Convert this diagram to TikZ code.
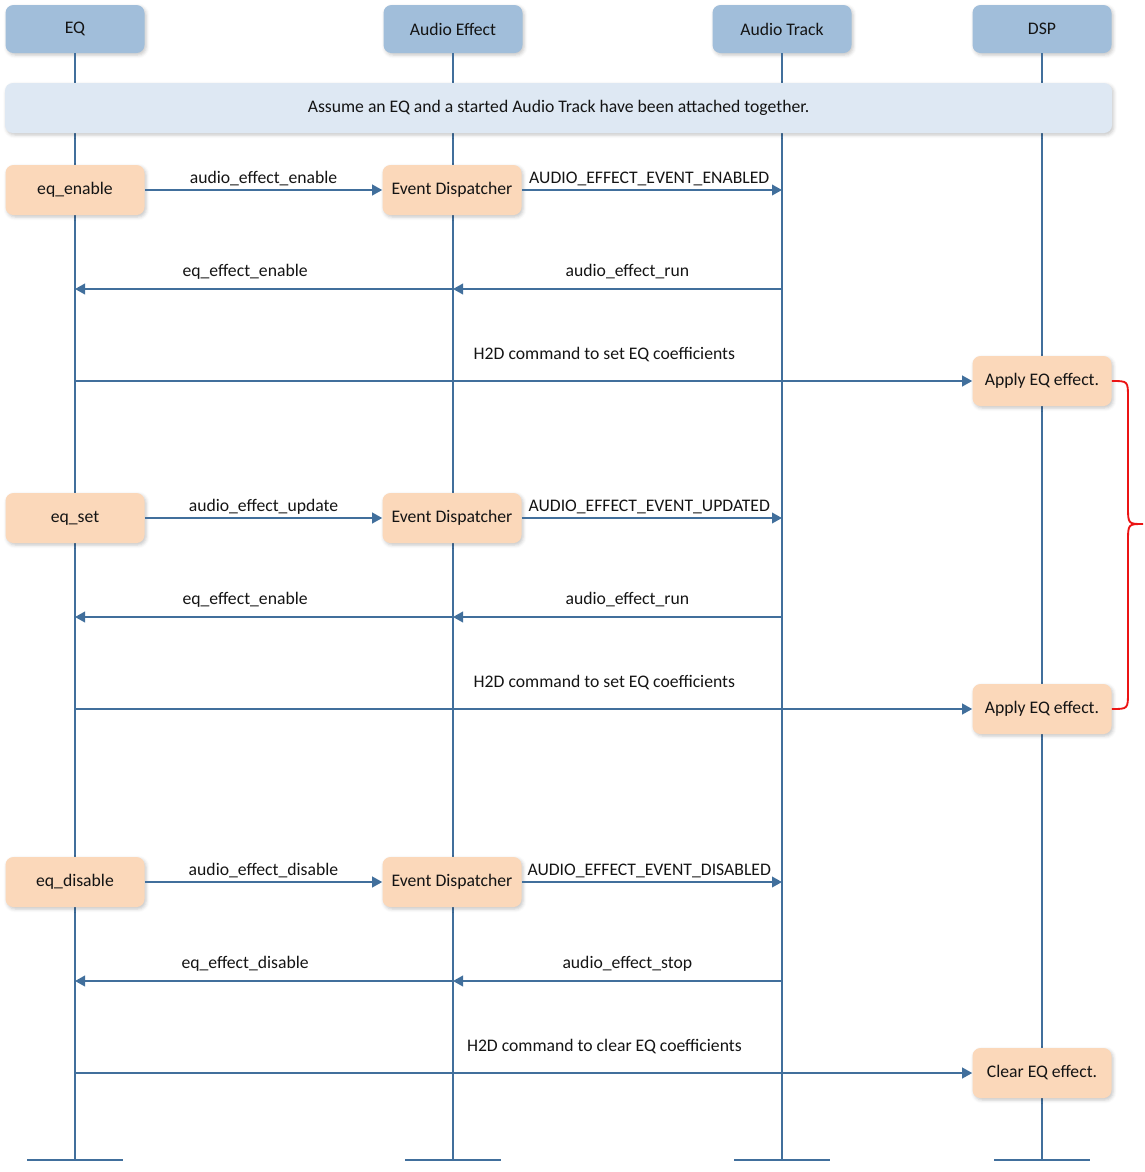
\documentclass[tikz,border=0pt]{standalone}
\usepackage{fontspec}
\setmainfont{Carlito}
\usetikzlibrary{arrows.meta}
\usetikzlibrary{shadows.blur}

\definecolor{lineblue}{RGB}{65,111,156}
\definecolor{headfill}{RGB}{161,190,218}
\definecolor{actfill}{RGB}{251,216,186}
\definecolor{notefill}{RGB}{222,232,243}
\definecolor{bracered}{RGB}{235,20,20}
\definecolor{txtdark}{RGB}{20,20,20}

\tikzset{
  boxshadow/.style={blur shadow={shadow xshift=1.2pt, shadow yshift=-1.5pt, shadow blur radius=2.5pt, shadow opacity=22}},
  header/.style={rounded corners=6pt, fill=headfill, minimum width=104.25pt, minimum height=36pt, inner sep=0pt, text=txtdark, boxshadow},
  action/.style={rounded corners=6pt, fill=actfill, minimum width=104.25pt, minimum height=37.5pt, inner sep=0pt, text=txtdark, boxshadow},
  note/.style={rounded corners=6pt, fill=notefill, minimum width=830.25pt, minimum height=37.5pt, inner sep=0pt, text=txtdark, boxshadow},
  lifeline/.style={draw=lineblue, line width=1.25pt},
  msg/.style={draw=lineblue, line width=1.25pt, -{Triangle[length=7.5pt,width=8pt]}},
  lbl/.style={anchor=base, inner sep=0pt, text=txtdark},
  brace/.style={draw=bracered, line width=1.4pt},
}

\begin{document}
\begin{tikzpicture}[x=0.75pt,y=0.75pt,yscale=-1,xscale=1,font=\fontsize{13.25}{16}\selectfont]
\useasboundingbox (0,0) rectangle (1145,1172);

%Lifeline heads
\node[header] (eq) at (75,29) {EQ};
\node[header] (ae) at (453,29) {Audio Effect};
\node[header] (at) at (782,29) {Audio Track};
\node[header] (dsp) at (1042,29) {DSP};
\coordinate (bottom) at (0,1160);

%Lifelines with end bars
\foreach \l in {eq,ae,at,dsp}{
  \draw[lifeline] (\l.south) -- (\l |- bottom);
  \draw[lifeline] (\l |- bottom) ++(-48,0) -- ++(96,0);
}

%Note
\node[note] (assume) at (558.5,108) {Assume an EQ and a started Audio Track have been attached together.};

%Row coordinates for return messages
\coordinate (r2) at (0,289);
\coordinate (r5) at (0,617);
\coordinate (r8) at (0,981);

% eq_enable
\node[action] (enable) at (75,190) {eq\_enable};
\node[action] (disp1) at (452,190) {Event Dispatcher};
\draw[msg] (enable) -- node[lbl, yshift=5.25pt] {audio\_effect\_enable} (disp1);
\draw[msg] (disp1) -- node[lbl, pos=.49, yshift=5.25pt] {AUDIO\_EFFECT\_EVENT\_ENABLED} (at |- disp1);
\draw[msg] (at |- r2) -- node[lbl, pos=.47, yshift=9.75pt] {audio\_effect\_run} (ae |- r2);
\draw[msg] (ae |- r2) -- node[lbl, pos=.55, yshift=9.75pt] {eq\_effect\_enable} (eq |- r2);
\node[action] (apply1) at (1042,381) {Apply EQ effect.};
\draw[msg] (eq |- apply1) -- node[lbl, pos=.59, yshift=16.5pt] {H2D command to set EQ coefficients} (apply1);

% eq_set
\node[action] (set) at (75,518) {eq\_set};
\node[action] (disp2) at (452,518) {Event Dispatcher};
\draw[msg] (set) -- node[lbl, yshift=5.25pt] {audio\_effect\_update} (disp2);
\draw[msg] (disp2) -- node[lbl, pos=.49, yshift=5.25pt] {AUDIO\_EFFECT\_EVENT\_UPDATED} (at |- disp2);
\draw[msg] (at |- r5) -- node[lbl, pos=.47, yshift=9.75pt] {audio\_effect\_run} (ae |- r5);
\draw[msg] (ae |- r5) -- node[lbl, pos=.55, yshift=9.75pt] {eq\_effect\_enable} (eq |- r5);
\node[action] (apply2) at (1042,709) {Apply EQ effect.};
\draw[msg] (eq |- apply2) -- node[lbl, pos=.59, yshift=16.5pt] {H2D command to set EQ coefficients} (apply2);

%Brace between the two apply steps
\draw[brace] (apply1.east) .. controls (1128,381) .. (1128,398) -- (1128,506) .. controls (1128,524) .. (1143,524) .. controls (1128,524) .. (1128,542) -- (1128,692) .. controls (1128,709) .. (apply2.east);

% eq_disable
\node[action] (disable) at (75,882) {eq\_disable};
\node[action] (disp3) at (452,882) {Event Dispatcher};
\draw[msg] (disable) -- node[lbl, yshift=5.25pt] {audio\_effect\_disable} (disp3);
\draw[msg] (disp3) -- node[lbl, pos=.49, yshift=5.25pt] {AUDIO\_EFFECT\_EVENT\_DISABLED} (at |- disp3);
\draw[msg] (at |- r8) -- node[lbl, pos=.47, yshift=9.75pt] {audio\_effect\_stop} (ae |- r8);
\draw[msg] (ae |- r8) -- node[lbl, pos=.55, yshift=9.75pt] {eq\_effect\_disable} (eq |- r8);
\node[action] (clear) at (1042,1073) {Clear EQ effect.};
\draw[msg] (eq |- clear) -- node[lbl, pos=.59, yshift=16.5pt] {H2D command to clear EQ coefficients} (clear);

\end{tikzpicture}
\end{document}
